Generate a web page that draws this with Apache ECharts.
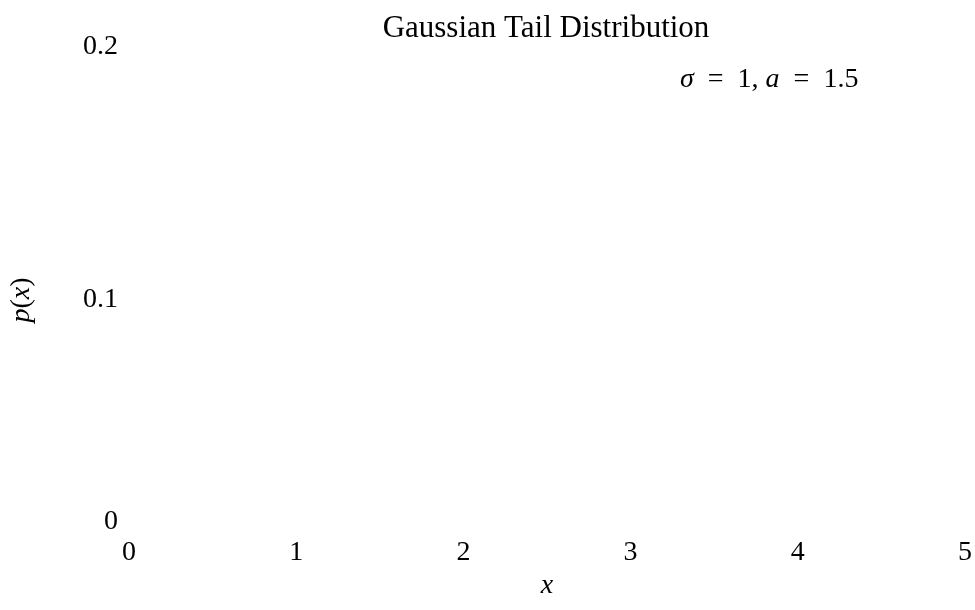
<!DOCTYPE html>
<html>
<head>
<meta charset="utf-8">
<script src="https://cdn.jsdelivr.net/npm/echarts@6/dist/echarts.min.js"></script>
<style>html,body{margin:0;padding:0;background:#fff}#c{width:975px;height:610px}</style>
</head>
<body>
<div id="c"></div>
<script>
const titleText = 'Gaussian Tail Distribution';
const xTicks = [0, 1, 2, 3, 4, 5];
const yTicks = [0, 0.1, 0.2];
const sigma = 1;
const a = 1.5;
// No curve is visible in the reference chart: empty series
const curveX = [];
const curveY = [];

const FONT = '"Liberation Serif", "Times New Roman", serif';
const chart = echarts.init(document.getElementById('c'), null, {renderer: 'canvas'});
chart.setOption({
  backgroundColor: '#fff',
  animation: false,
  title: {
    text: titleText, top: 8, left: 541, textAlign: 'center',
    textStyle: {fontFamily: FONT, fontSize: 31, fontWeight: 'normal', color: '#000'}
  },
  grid: {left: 105, right: 3, top: 47, bottom: 57, containLabel: false},
  xAxis: {
    type: 'value', min: xTicks[0], max: xTicks[xTicks.length-1], interval: 1,
    axisLine: {show: false}, axisTick: {show: false}, splitLine: {show: false},
    axisLabel: {fontFamily: FONT, fontSize: 28, color: '#000', margin: -14,
      showMinLabel: true, showMaxLabel: true},
    name: 'x', nameLocation: 'middle', nameGap: -1,
    nameTextStyle: {fontFamily: FONT, fontSize: 28, fontStyle: 'italic', color: '#000'}
  },
  yAxis: {
    type: 'value', min: yTicks[0], max: yTicks[yTicks.length-1], interval: 0.1,
    axisLine: {show: false}, axisTick: {show: false}, splitLine: {show: false},
    axisLabel: {fontFamily: FONT, fontSize: 28, color: '#000', margin: 11,
      formatter: v => v === 0 ? '{z|0}' : String(v),
      rich: {z: {fontFamily: FONT, fontSize: 28, color: '#000', padding: [0, 0, 62, 0]}}},
    name: '{i|p}{n|(}{i|x}{n|)}', nameLocation: 'middle', nameGap: 93, nameRotate: 90,
    nameTextStyle: {rich: {
      i: {fontFamily: FONT, fontSize: 28, fontStyle: 'italic', color: '#000'},
      n: {fontFamily: FONT, fontSize: 28, color: '#000'}
    }}
  },
  graphic: [{
    type: 'text', left: 680, top: 66,
    style: {
      text: '{i|σ}{n|\u2002=\u20021, }{i|a}{n|\u2002=\u20021.5}',
      rich: {
        i: {fontFamily: FONT, fontSize: 28, fontStyle: 'italic', fill: '#000'},
        n: {fontFamily: FONT, fontSize: 28, fill: '#000'}
      }
    }
  }],
  series: [{
    type: 'line', showSymbol: false, data: curveX.map((x, i) => [x, curveY[i]]),
    lineStyle: {color: '#000', width: 1}
  }]
});
</script>
</body>
</html>
